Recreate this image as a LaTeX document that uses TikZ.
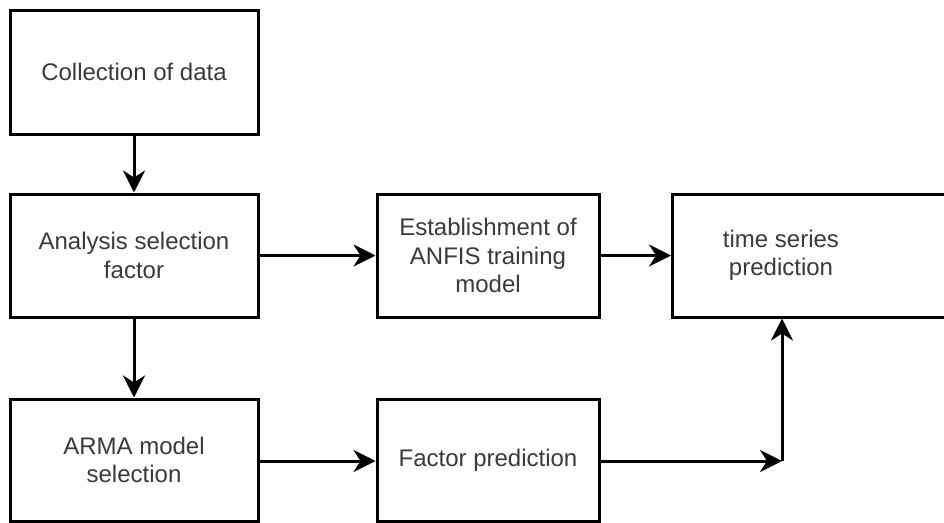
\documentclass[tikz,border=0pt]{standalone}
\usepackage{fontspec}
\setmainfont{Liberation Sans}
\usetikzlibrary{arrows.meta}
\definecolor{txtgray}{HTML}{3A3A3A}
\tikzset{
  box/.style={draw=black, line width=3pt, fill=white, rectangle, inner sep=0pt},
  lbl/.style={text=txtgray, align=center, font=\fontsize{24pt}{28.5pt}\selectfont, inner sep=0pt},
  conn/.style={line width=3pt, -{Stealth[length=22pt,width=22pt,inset=7pt]}},
}
\begin{document}
\begin{tikzpicture}[x=1pt,y=1pt]
\useasboundingbox (0,0) rectangle (944,-522);
\clip (0,0) rectangle (944,-522);
% boxes
\node[box, minimum width=248pt, minimum height=124pt] (b1) at (134,-72) {};
\node[lbl] (t1) at (b1.center) {Collection of data};
\node[box, minimum width=248pt, minimum height=123pt] (b2) at (134,-255.5) {};
\node[lbl] (t2) at (b2.center) {Analysis selection\\factor};
\node[box, minimum width=248pt, minimum height=122pt] (b3) at (134,-460) {};
\node[lbl] (t3) at (b3.center) {ARMA model\\selection};
\node[box, minimum width=222pt, minimum height=123pt] (b4) at (488,-255.5) {};
\node[lbl] (t4) at (b4.center) {Establishment of\\ANFIS training\\model};
\node[box, minimum width=222pt, minimum height=122pt] (b6) at (488,-460) {};
\node[lbl] (t6) at (b6.center) {Factor prediction};
\node[box, minimum width=300pt, minimum height=123pt, anchor=west] (b5) at (671,-255.5) {};
\node[lbl] (t5) at (781,-255.5) {time series\\prediction};
\coordinate (corner) at (782,-461);
% connectors
\draw[conn] (b1.south) -- (b2.north);
\draw[conn] (b2.south) -- (b3.north);
\draw[conn] (b2.east) -- (b4.west);
\draw[conn] (b4.east) -- (b4.east -| b5.west);
\draw[conn] (b3.east |- corner) -- (b6.west |- corner);
\draw[conn] (b6.east |- corner) -- (corner);
\draw[conn] (corner) -- (corner |- b5.south);
\end{tikzpicture}
\end{document}
